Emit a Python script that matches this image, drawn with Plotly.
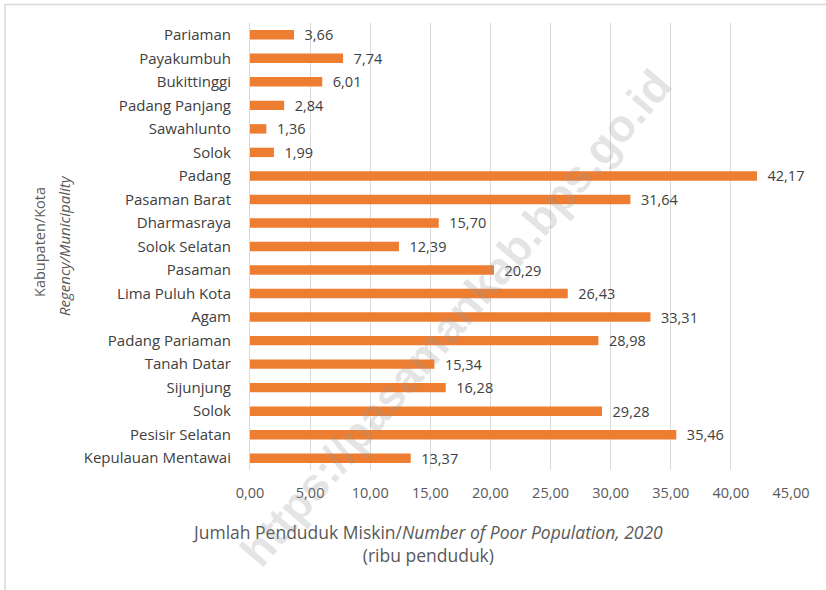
import plotly.graph_objects as go

# Kabupaten/Kota, listed top to bottom as drawn
regions = [
    "Pariaman", "Payakumbuh", "Bukittinggi", "Padang Panjang", "Sawahlunto",
    "Solok", "Padang", "Pasaman Barat", "Dharmasraya", "Solok Selatan",
    "Pasaman", "Lima Puluh Kota", "Agam", "Padang Pariaman", "Tanah Datar",
    "Sijunjung", "Solok", "Pesisir Selatan", "Kepulauan Mentawai",
]
# Jumlah penduduk miskin 2020 (ribu penduduk)
poor_population = [
    3.66, 7.74, 6.01, 2.84, 1.36,
    1.99, 42.17, 31.64, 15.70, 12.39,
    20.29, 26.43, 33.31, 28.98, 15.34,
    16.28, 29.28, 35.46, 13.37,
]
x_ticks = [0, 5, 10, 15, 20, 25, 30, 35, 40, 45]

W, H = 826, 590
L, R, T, B = 250, 35, 23, 120
FONT = "Open Sans"

# numeric positions keep the two "Solok" rows separate
positions = list(range(len(regions)))

fig = go.Figure(go.Bar(
    x=poor_population,
    y=positions,
    orientation="h",
    marker=dict(color="#ED7D31", line=dict(width=0)),
    width=0.4,
    text=["\u00a0\u00a0" + f"{v:.2f}".replace(".", ",") for v in poor_population],
    textposition="outside",
    constraintext="none",
    outsidetextfont=dict(family=FONT, size=14.5, color="#404040"),
    cliponaxis=False,
    hoverinfo="skip",
))

pw = W - L - R
ph = H - T - B


def px_to_paper_x(px):
    return (px - L) / pw


def px_to_paper_y(py):
    return (H - B - py) / ph


def label(text, px, py, size, angle=0):
    return dict(
        text=text, xref="paper", yref="paper",
        x=px_to_paper_x(px), y=px_to_paper_y(py),
        xanchor="center", yanchor="middle",
        showarrow=False, textangle=angle,
        font=dict(family=FONT, size=size, color="#595959"),
    )


fig.update_layout(
    width=W, height=H,
    margin=dict(l=L, r=R, t=T, b=B),
    paper_bgcolor="white",
    plot_bgcolor="white",
    separators=",.",
    showlegend=False,
    font=dict(family=FONT, color="#595959"),
    xaxis=dict(
        range=[0, 45],
        tickvals=x_ticks,
        tickformat=".2f",
        showgrid=True,
        gridcolor="#D9D9D9",
        gridwidth=1,
        zeroline=False,
        showline=False,
        ticks="",
        ticklabelstandoff=12,
        tickfont=dict(family=FONT, size=14.5, color="#595959"),
    ),
    yaxis=dict(
        range=[len(regions) - 0.5, -0.5],
        tickvals=positions,
        ticktext=regions,
        showgrid=False,
        zeroline=False,
        showline=True,
        linecolor="#D9D9D9",
        linewidth=1,
        ticks="",
        ticklabelstandoff=15,
        tickfont=dict(family=FONT, size=15, color="#404040"),
    ),
    shapes=[dict(
        type="rect", xref="paper", yref="paper",
        x0=px_to_paper_x(5), x1=px_to_paper_x(830),
        y0=px_to_paper_y(600), y1=px_to_paper_y(4.5),
        line=dict(color="#D9D9D9", width=1.5),
        fillcolor="rgba(0,0,0,0)",
        layer="below",
    )],
    annotations=[
        # x-axis title, centred on the chart area
        label("Jumlah Penduduk Miskin/<i>Number of Poor Population, 2020</i><br>(ribu penduduk)",
              427, 543, 17.5),
        # y-axis title, two rotated lines
        label("Kabupaten/Kota", 40, 242, 14.5, -90),
        label("<i>Regency/Municipality</i>", 64, 246, 15, -90),
        # watermark
        dict(
            text="<b>https://pasamankab.bps.go.id</b>",
            xref="paper", yref="paper",
            x=px_to_paper_x(455), y=px_to_paper_y(318),
            xanchor="center", yanchor="middle",
            showarrow=False,
            textangle=-49.5,
            font=dict(family="Liberation Sans", size=45, color="rgba(150,150,150,0.25)"),
        ),
    ],
)

fig.write_html("out.html")
